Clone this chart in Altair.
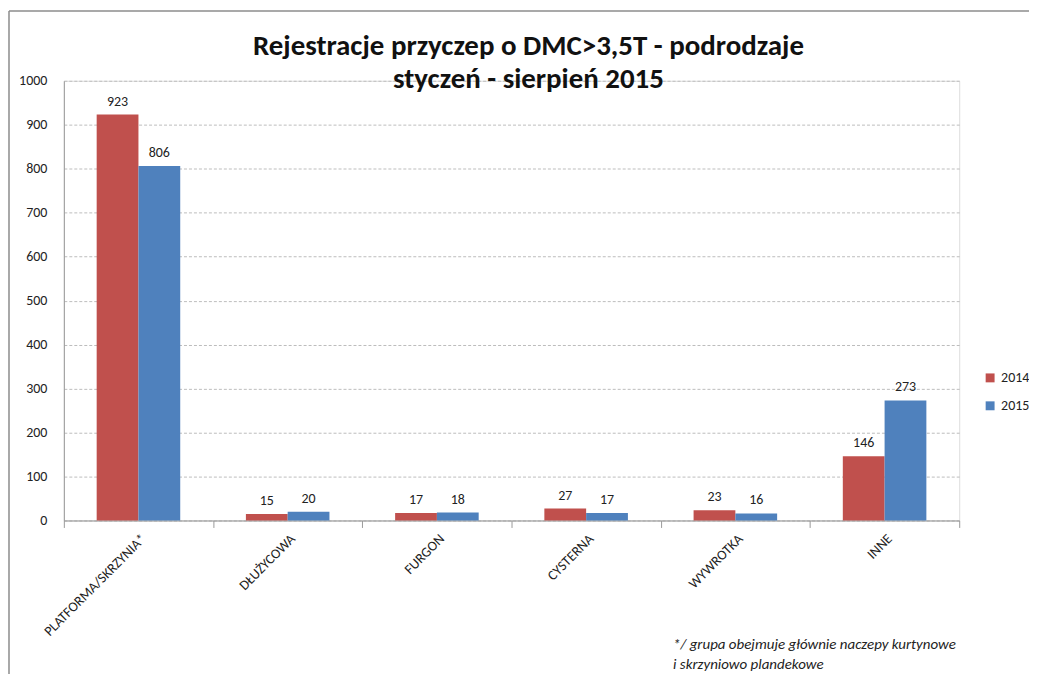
import altair as alt
import pandas as pd

categories = ["PLATFORMA/SKRZYNIA*", "DŁUŻYCOWA", "FURGON", "CYSTERNA", "WYWROTKA", "INNE"]
years = ["2014", "2015"]
values_2014 = [923, 15, 17, 27, 23, 146]
values_2015 = [806, 20, 18, 17, 16, 273]
colors = ["#C0504D", "#4F81BD"]
title_lines = ["Rejestracje przyczep o DMC>3,5T - podrodzaje", "styczeń - sierpień 2015"]
footnote_lines = ["*/ grupa obejmuje głównie naczepy kurtynowe", "i skrzyniowo plandekowe"]
y_ticks = list(range(0, 1001, 100))

rows = []
for c, a, b in zip(categories, values_2014, values_2015):
    rows.append({"kategoria": c, "rok": years[0], "wartosc": a})
    rows.append({"kategoria": c, "rok": years[1], "wartosc": b})
df = pd.DataFrame(rows)

FONT = "Carlito, Liberation Sans Narrow, Liberation Sans, sans-serif"
W, H = 898, 441

base = alt.Chart(df).encode(
    x=alt.X("kategoria:N", sort=categories, title=None,
            scale=alt.Scale(paddingInner=0, paddingOuter=0),
            axis=alt.Axis(labelAngle=-45, labelFontSize=14, labelColor="#222222",
                          labelFont=FONT, tickBand="extent", tickSize=7,
                          tickColor="#9a9a9a", domainColor="#9a9a9a", labelPadding=4)),
    xOffset=alt.XOffset("rok:N", sort=years,
                        scale=alt.Scale(paddingOuter=0.786, paddingInner=0)),
)

bars = base.mark_bar().encode(
    y=alt.Y("wartosc:Q", title=None,
            scale=alt.Scale(domain=[0, 1000], nice=False),
            axis=alt.Axis(values=y_ticks, format="d", labelFontSize=14, labelColor="#222222",
                          labelFont=FONT, grid=True, gridDash=[3, 2],
                          gridColor="#bdbdbd", ticks=False, domainColor="#9a9a9a",
                          labelPadding=17)),
    color=alt.Color("rok:N", sort=years, title=None,
                    scale=alt.Scale(domain=years, range=colors),
                    legend=alt.Legend(orient="none", legendX=922, legendY=291,
                                      symbolType="square", symbolSize=80,
                                      symbolStrokeWidth=0,
                                      labelFontSize=14, labelFont=FONT,
                                      labelColor="#222222", rowPadding=14)),
)

labels = base.mark_text(dy=-13, fontSize=14, font=FONT, color="#222222").encode(
    y=alt.Y("wartosc:Q"),
    text=alt.Text("wartosc:Q"),
)

one = alt.Data(values=[{}])

title = alt.Chart(one).mark_text(
    fontSize=29, fontWeight="bold", font=FONT, color="#111111",
    baseline="middle", align="center", lineHeight=33,
).encode(x=alt.value(466), y=alt.value(-35), text=alt.value(title_lines))

footnote = alt.Chart(one).mark_text(
    fontSize=15, fontStyle="italic", font=FONT, color="#222222",
    baseline="middle", align="left", lineHeight=20,
).encode(x=alt.value(611), y=alt.value(565), text=alt.value(footnote_lines))

left_border = alt.Chart(one).mark_rule(color="#8c8c8c", strokeWidth=1.5).encode(
    x=alt.value(-55), y=alt.value(-70), y2=alt.value(600))
top_border = alt.Chart(one).mark_rule(color="#8c8c8c", strokeWidth=1.5).encode(
    x=alt.value(-55), x2=alt.value(980), y=alt.value(-70))

chart = alt.layer(bars, labels, title, footnote, left_border, top_border).properties(
    width=W, height=H,
    autosize=alt.AutoSizeParams(type="none"),
    padding={"left": 56, "top": 72, "right": 70, "bottom": 153},
).configure_view(stroke=None).configure(background="white")

chart.save("out.html", embed_options={"renderer": "svg", "actions": False})
